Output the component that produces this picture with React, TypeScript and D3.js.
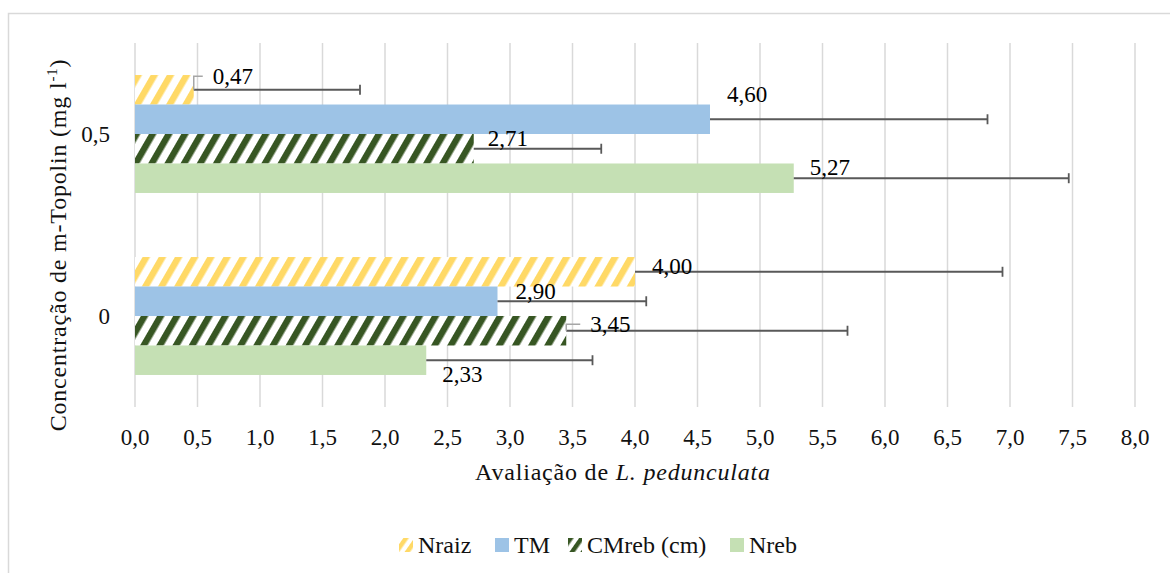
import React from "react";
import * as d3 from "d3";

// ---------- data ----------
const categories = ["0,5", "0"];
const seriesNames = ["Nraiz", "TM", "CMreb (cm)", "Nreb"];
const nraiz = [0.47, 4.0];
const tm = [4.6, 2.9];
const cmreb = [2.71, 3.45];
const nreb = [5.27, 2.33];
const nraizErr = [1.33, 2.94];
const tmErr = [2.22, 1.19];
const cmrebErr = [1.02, 2.25];
const nrebErr = [2.2, 1.33];
const xTickValues = d3.range(0, 8.01, 0.5);

// ---------- layout / style ----------
const W = 1170;
const H = 573;
const M = { left: 135, right: 1135, top: 43, bottom: 407 };
const FONT = "'Liberation Serif', 'Times New Roman', serif";
const fills = ["url(#patYellow)", "#9DC3E6", "url(#patGreen)", "#C5E0B4"];
const legendFills = ["url(#patYellowL)", "#9DC3E6", "url(#patGreenL)", "#C5E0B4"];
// label offsets: [categoryIndex][seriesIndex] -> [dx from bar end, dy baseline from bar center, leader]
const labelOffsets: [number, number, boolean][][] = [
  [[19, -5.5, true], [17, -17, false], [14, -2.5, false], [16, -3.5, false]],
  [[17, 2, false], [18, -2.5, false], [24, 1.5, true], [16, 21.5, false]],
];
const legendX = [399, 495, 568, 730];

export default function App() {
  const values = [nraiz, tm, cmreb, nreb];
  const errs = [nraizErr, tmErr, cmrebErr, nrebErr];
  const x = d3.scaleLinear().domain([0, 8]).range([M.left, M.right]);
  const y0 = d3
    .scaleBand<string>()
    .domain(categories)
    .range([M.top, M.bottom])
    .paddingInner(0.352)
    .paddingOuter(0.176);
  const y1 = d3
    .scaleBand<string>()
    .domain(seriesNames)
    .range([0, y0.bandwidth()])
    .padding(0);
  const fmt = (v: number) => d3.format(".2f")(v).replace(".", ",");
  const fmtTick = (v: number) => d3.format(".1f")(v).replace(".", ",");

  const stripePattern = (id: string, color: string) => (
    <pattern
      id={id}
      patternUnits="userSpaceOnUse"
      width={14}
      height={14}
      patternTransform="rotate(30)"
    >
      <rect width={14} height={14} fill="#fff" />
      <rect width={6.5} height={14} fill={color} />
    </pattern>
  );

  return (
    <svg
      width={W}
      height={H}
      style={{ position: "fixed", left: 0, top: 0, background: "#fff" }}
      fontFamily={FONT}
    >
      <defs>
        {stripePattern("patYellow", "#FFD966")}
        {stripePattern("patGreen", "#375623")}
        <pattern id="patYellowL" patternUnits="userSpaceOnUse" width={9} height={9} patternTransform="rotate(35)">
          <rect width={9} height={9} fill="#fff" />
          <rect width={4.5} height={9} fill="#FFD966" />
        </pattern>
        <pattern id="patGreenL" patternUnits="userSpaceOnUse" width={9} height={9} patternTransform="rotate(35)">
          <rect width={9} height={9} fill="#fff" />
          <rect width={4.5} height={9} fill="#375623" />
        </pattern>
      </defs>
      <rect x={0} y={0} width={W} height={H} fill="#fff" />
      <rect x={8.5} y={13.5} width={W + 20} height={H + 20} fill="none" stroke="#D9D9D9" strokeWidth={1.5} />

      {/* gridlines */}
      {xTickValues.map((t) => (
        <line
          key={"g" + t}
          x1={x(t)}
          x2={x(t)}
          y1={M.top}
          y2={M.bottom}
          stroke="#D9D9D9"
          strokeWidth={1.5}
        />
      ))}

      {/* bars */}
      {categories.map((c, ci) =>
        seriesNames.map((s, si) => (
          <rect
            key={"b" + ci + si}
            x={x(0)}
            y={(y0(c) as number) + (y1(s) as number)}
            width={x(values[si][ci]) - x(0)}
            height={y1.bandwidth()}
            fill={fills[si]}
          />
        ))
      )}

      {/* error bars */}
      {categories.map((c, ci) =>
        seriesNames.map((s, si) => {
          const cy = (y0(c) as number) + (y1(s) as number) + y1.bandwidth() / 2;
          const xs = x(values[si][ci]);
          const xe = x(values[si][ci] + errs[si][ci]);
          return (
            <g key={"e" + ci + si} stroke="#595959" strokeWidth={1.8}>
              <line x1={xs} x2={xe} y1={cy} y2={cy} />
              <line x1={xe} x2={xe} y1={cy - 5} y2={cy + 5} />
            </g>
          );
        })
      )}

      {/* data labels */}
      {categories.map((c, ci) =>
        seriesNames.map((s, si) => {
          const cy = (y0(c) as number) + (y1(s) as number) + y1.bandwidth() / 2;
          const xs = x(values[si][ci]);
          const [dx, dy, leader] = labelOffsets[ci][si];
          const lx = xs + dx;
          const by = cy + dy;
          const midY = by - 8;
          return (
            <g key={"l" + ci + si}>
              {leader && (
                <polyline
                  points={`${xs},${cy} ${xs},${midY} ${lx - 10},${midY}`}
                  fill="none"
                  stroke="#A6A6A6"
                  strokeWidth={1.5}
                />
              )}
              <text x={lx} y={by} fontSize={23} fill="#000">
                {fmt(values[si][ci])}
              </text>
            </g>
          );
        })
      )}

      {/* x tick labels */}
      {xTickValues.map((t) => (
        <text key={"t" + t} x={x(t)} y={445} fontSize={23} textAnchor="middle" fill="#111">
          {fmtTick(t)}
        </text>
      ))}

      {/* category labels */}
      {categories.map((c) => (
        <text
          key={"c" + c}
          x={110}
          y={(y0(c) as number) + y0.bandwidth() / 2 + 8}
          fontSize={23}
          textAnchor="end"
          fill="#111"
        >
          {c}
        </text>
      ))}

      {/* x axis title */}
      <text x={623} y={480} fontSize={24} textAnchor="middle" fill="#111" letterSpacing={0.8}>
        Avaliação de <tspan fontStyle="italic">L. pedunculata</tspan>
      </text>

      {/* y axis title */}
      <text
        transform="translate(66,245) rotate(-90)"
        fontSize={24}
        textAnchor="middle"
        fill="#111"
        letterSpacing={0.8}
      >
        Concentração de m-Topolin (mg l
        <tspan fontSize={15} dy={-9}>-1</tspan>
        <tspan dy={9}>)</tspan>
      </text>

      {/* legend */}
      {seriesNames.map((s, si) => (
        <g key={"lg" + si}>
          <rect x={legendX[si]} y={538} width={14} height={14} fill={legendFills[si]} />
          <text x={legendX[si] + 19} y={553} fontSize={24} fill="#111">
            {s}
          </text>
        </g>
      ))}
    </svg>
  );
}
